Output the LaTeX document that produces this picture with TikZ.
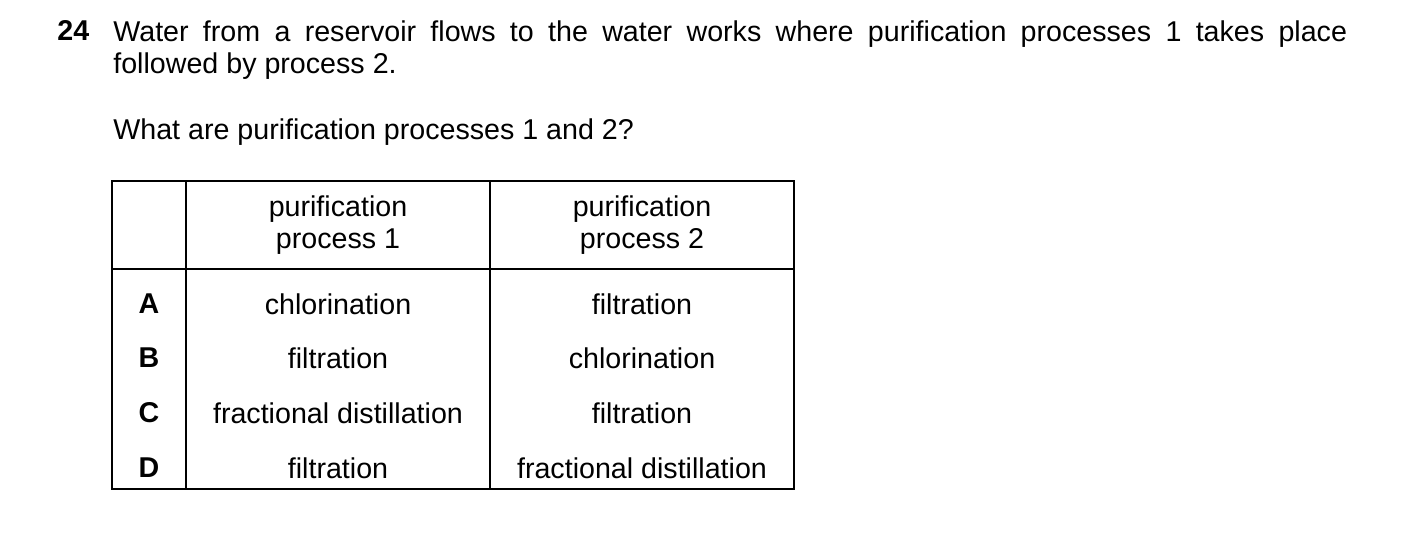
\documentclass[tikz,border=0pt]{standalone}
\usepackage{fontspec}
\setmainfont{Liberation Sans}
\usetikzlibrary{positioning}
\begin{document}
\begin{tikzpicture}[x=0.02cm, y=-0.02cm,
    txt/.style={font=\fontsize{16.3pt}{18.4pt}\selectfont, inner sep=0pt},
    cell/.style={txt, align=center},
    key/.style={txt, font=\fontsize{16.3pt}{18.4pt}\selectfont\bfseries}]
    \useasboundingbox (0,0) rectangle (1403,539);
    % Question
    \node[key, anchor=north west] (qnum) at (57,20) {24};
    \node[txt, anchor=north west, text width=24.68cm, align=justify] (qtext) at (113,20)
        {Water from a reservoir flows to the water works where purification processes 1 takes place\linebreak followed by process 2.};
    \node[txt, anchor=north west] (ask) at (113,118) {What are purification processes 1 and 2?};
    % Table
    \draw[thick] (112,181) rectangle (794,489);
    \draw[thick] (186,181) -- (186,489);
    \draw[thick] (490,181) -- (490,489);
    \draw[thick] (112,269) -- (794,269);
    % Header
    \node[cell] (h1) at (338,225) {purification\\process 1};
    \node[cell] (h2) at (642,225) {purification\\process 2};
    % Rows
    \foreach \k/\y/\p/\q in {A/304/chlorination/filtration,
                             B/358/filtration/chlorination,
                             C/413/fractional distillation/filtration,
                             D/468/filtration/fractional distillation} {
        \node[key] (key\k) at (149,\y) {\k};
        \node[cell] (p\k) at (338,\y) {\p};
        \node[cell] (q\k) at (642,\y) {\q};
    }
\end{tikzpicture}
\end{document}
